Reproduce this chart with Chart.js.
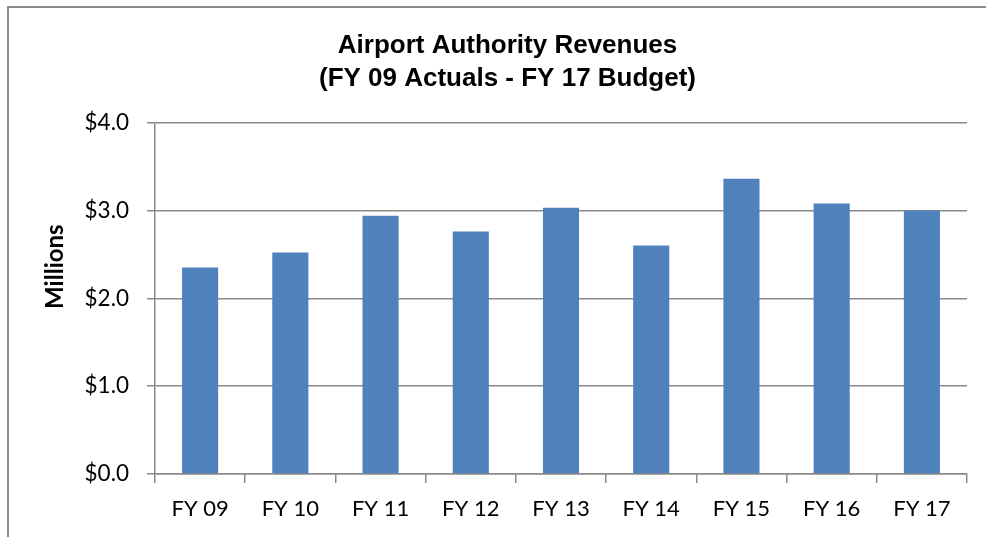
<!DOCTYPE html>
<html>
<head>
<meta charset="utf-8">
<script src="https://cdn.jsdelivr.net/npm/chart.js@4/dist/chart.umd.min.js"></script>
<style>
  html, body { margin: 0; padding: 0; background: #ffffff; }
  #wrap { position: relative; width: 986px; height: 537px; overflow: hidden; }
  #frame {
    position: absolute; left: 7px; top: 6px; width: 1200px; height: 900px;
    border-left: 2px solid #8c8c8c; border-top: 2px solid #8c8c8c;
    box-sizing: border-box; pointer-events: none;
  }
  canvas { position: absolute; left: 0; top: 0; }
</style>
</head>
<body>
<div id="wrap">
  <canvas id="chart" width="986" height="537"></canvas>
  <div id="frame"></div>
</div>
<script>
// Fiscal years shown along the bottom axis
const categories = ['FY 09', 'FY 10', 'FY 11', 'FY 12', 'FY 13', 'FY 14', 'FY 15', 'FY 16', 'FY 17'];
// Revenue per fiscal year, in millions of dollars
const revenues = [2.35, 2.52, 2.94, 2.76, 3.03, 2.60, 3.36, 3.08, 3.00];
// Value axis range and step (millions)
const yMin = 0;
const yMax = 4;
const yStep = 1;

const titleLines = ['Airport Authority Revenues', '(FY 09 Actuals - FY 17 Budget)'];
const yAxisTitle = 'Millions';

const axisGray = '#8a8a8a';
const barBlue = '#4f81bd';

// Rotated value-axis caption, placed a little above the axis middle
const axisCaption = {
  id: 'axisCaption',
  afterDraw(chart) {
    const ctx = chart.ctx;
    const area = chart.chartArea;
    ctx.save();
    ctx.translate(55, area.top + (area.bottom - area.top) * 0.41);
    ctx.rotate(-Math.PI / 2);
    ctx.font = 'bold 24px Lato, "Open Sans", sans-serif';
    ctx.fillStyle = '#000000';
    ctx.textAlign = 'center';
    ctx.textBaseline = 'middle';
    ctx.fillText(yAxisTitle, 0, 0);
    ctx.restore();
  }
};

new Chart(document.getElementById('chart'), {
  type: 'bar',
  data: {
    labels: categories,
    datasets: [{
      label: 'Revenues',
      data: revenues,
      backgroundColor: barBlue,
      borderWidth: 0,
      categoryPercentage: 1.0,
      barPercentage: 0.4
    }]
  },
  plugins: [axisCaption],
  options: {
    responsive: false,
    animation: false,
    devicePixelRatio: 1,
    layout: { padding: { left: 48, right: 19, top: 0, bottom: 0 } },
    plugins: {
      legend: { display: false },
      tooltip: { enabled: false },
      title: {
        display: true,
        text: titleLines,
        color: '#000000',
        font: { family: '"Liberation Sans", Arial, sans-serif', size: 26, weight: 'bold', lineHeight: 1.27 },
        padding: { top: 29.5, bottom: 27 }
      }
    },
    scales: {
      x: {
        type: 'category',
        offset: true,
        grid: {
          offset: true,
          drawOnChartArea: false,
          drawTicks: true,
          tickLength: 9,
          color: axisGray,
          lineWidth: 1.5
        },
        border: { display: true, color: axisGray, width: 1.5 },
        ticks: {
          color: '#000000',
          font: { family: 'Lato, "Open Sans", sans-serif', size: 22 },
          padding: 13,
          maxRotation: 0,
          autoSkip: false
        },
        afterFit: (scale) => { scale.height = 63; }
      },
      y: {
        min: yMin,
        max: yMax,
        grid: {
          drawOnChartArea: true,
          drawTicks: true,
          tickLength: 8,
          color: axisGray,
          lineWidth: 1.5
        },
        border: { display: true, color: axisGray, width: 1.5 },
        ticks: {
          stepSize: yStep,
          color: '#000000',
          font: { family: 'Lato, "Open Sans", sans-serif', size: 22.5 },
          padding: 18,
          callback: (v) => '$' + Number(v).toFixed(1)
        },
        afterFit: (scale) => { scale.width = 107; }
      }
    }
  }
});
</script>
</body>
</html>
